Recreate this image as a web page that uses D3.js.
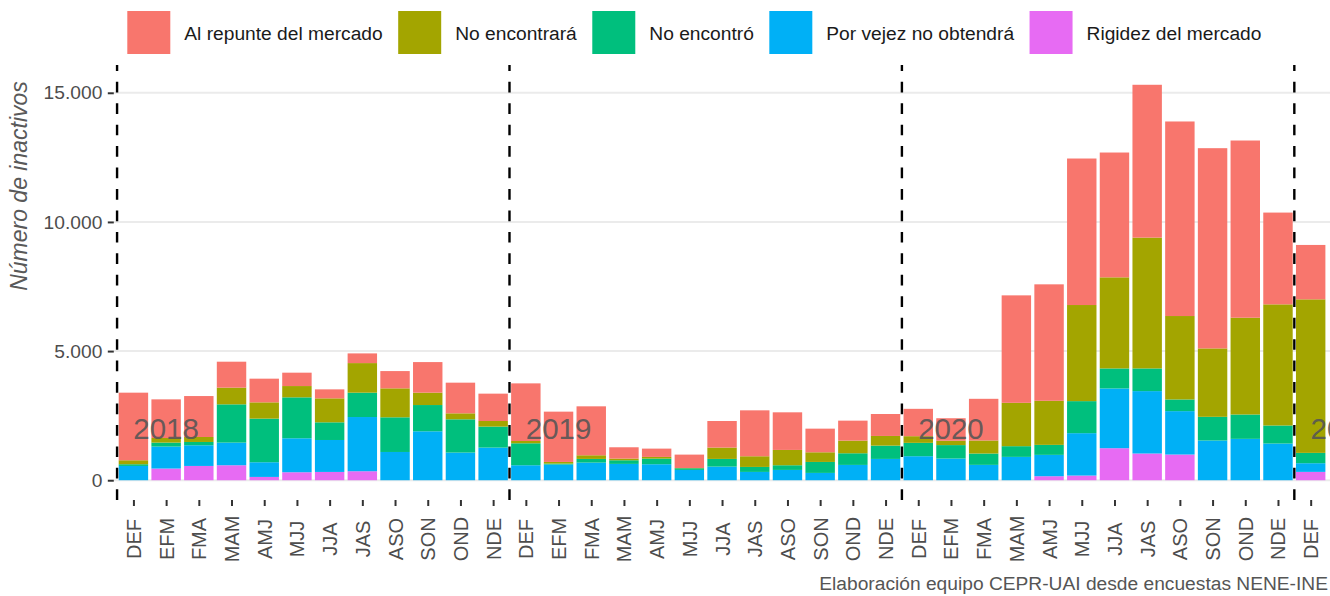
<!DOCTYPE html>
<head>
	<meta charset="utf-8">
	<title>Inactivos por razón</title>
	<script src="https://cdn.jsdelivr.net/npm/d3@7/dist/d3.min.js"></script>
	<style>
		body { margin: 0; background: #fff; }
		svg { display: block; font-family: "Liberation Sans", Arial, sans-serif; }
	</style>
</head>

<body>
	<div id="chart"></div>

  <script>
	// trimestres moviles, 2018 - 2021
	var periods = ["DEF","EFM","FMA","MAM","AMJ","MJJ","JJA","JAS","ASO","SON","OND","NDE",
		"DEF","EFM","FMA","MAM","AMJ","MJJ","JJA","JAS","ASO","SON","OND","NDE",
		"DEF","EFM","FMA","MAM","AMJ","MJJ","JJA","JAS","ASO","SON","OND","NDE",
		"DEF"];
	var years = ["2018", "2019", "2020", "2021"];
	var yearPos = [2, 14, 26, 38];
	var yearBreaks = [0.5, 12.5, 24.5, 36.5];

	// series, bottom of stack first
	var rigidez = [0,452,553,580,128,309,321,348,0,0,0,0,
		0,0,0,0,0,0,0,0,0,0,0,0,
		0,0,0,0,155,181,1240,1034,995,0,0,0,
		323];
	var vejez = [553,851,800,877,568,1315,1237,2099,1094,1894,1071,1264,
		580,606,683,632,619,399,528,322,399,283,593,825,
		930,840,595,904,827,1641,2313,2416,1680,1538,1602,1421,
		336];
	var noEncontro = [66,154,128,1481,1689,1585,684,943,1342,1017,1287,812,
		850,38,142,141,219,65,297,193,181,425,451,515,
		517,520,439,414,387,1240,775,878,452,917,943,698,
		400];
	var noEncontrara = [154,178,193,646,630,437,928,1145,1121,479,232,217,
		89,64,141,65,64,10,439,413,593,374,490,374,
		258,170,505,1679,1706,3721,3527,5065,3230,2648,3747,4690,
		5944];
	var repunte = [2617,1496,1585,1005,917,518,348,375,669,1184,1187,1059,
		2231,1947,1895,438,322,518,1029,1778,1456,915,773,850,
		1059,870,1613,4160,4509,5672,4832,5917,7532,7752,6860,3553,
		2106];

	var yTicks = [0, 5000, 10000, 15000];
	var legendNames = ["Al repunte del mercado", "No encontrará", "No encontró", "Por vejez no obtendrá", "Rigidez del mercado"];
	var stackKeys = ["rigidez", "vejez", "noEncontro", "noEncontrara", "repunte"];
	var colors = {
		repunte: "#F8766D", noEncontrara: "#A3A500", noEncontro: "#00BF7D",
		vejez: "#00B0F6", rigidez: "#E76BF3"
	};
	var legendKeys = ["repunte", "noEncontrara", "noEncontro", "vejez", "rigidez"];

	var rows = periods.map(function (p, i) {
		return {
			pos: i + 1, label: p,
			rigidez: rigidez[i], vejez: vejez[i], noEncontro: noEncontro[i],
			noEncontrara: noEncontrara[i], repunte: repunte[i]
		};
	});

	var width = 1330, height = 596;
	var panel = {left: 113.8, right: 1330.3, top: 65, bottom: 500};

	var svg = d3.select("#chart").append("svg")
		.attr("width", width)
		.attr("height", height);

	var stacked = d3.stack().keys(stackKeys)(rows);
	var maxTotal = d3.max(stacked[stacked.length - 1], function (d) { return d[1]; });

	// ggplot style expansion: 0.6 units on a discrete axis, 5% on the value axis
	var x = d3.scaleLinear().domain([0.4, periods.length + 0.6]).range([panel.left, panel.right]);
	var y = d3.scaleLinear().domain([-0.05 * maxTotal, maxTotal * 1.05]).range([panel.bottom, panel.top]);
	var unit = x(2) - x(1);

	var fmt = d3.formatLocale({decimal: ",", thousands: ".", grouping: [3], currency: ["$", ""]}).format(",.0f");

	svg.append("clipPath").attr("id", "panel-clip")
		.append("rect")
		.attr("x", panel.left).attr("y", panel.top)
		.attr("width", panel.right - panel.left).attr("height", panel.bottom - panel.top);

	// grid
	svg.append("g").selectAll("line").data(yTicks).enter().append("line")
		.attr("x1", panel.left).attr("x2", panel.right)
		.attr("y1", function (d) { return y(d); })
		.attr("y2", function (d) { return y(d); })
		.style("stroke", "#ebebeb")
		.style("stroke-width", 2);

	// bars
	svg.append("g").selectAll("g").data(stacked).enter().append("g")
		.style("fill", function (s) { return colors[s.key]; })
		.selectAll("rect").data(function (s) { return s; }).enter().append("rect")
			.attr("x", function (d) { return x(d.data.pos) - unit * 0.45; })
			.attr("width", unit * 0.9)
			.attr("y", function (d) { return y(d[1]); })
			.attr("height", function (d) { return y(d[0]) - y(d[1]); });

	// year separators
	svg.append("g").selectAll("line").data(yearBreaks).enter().append("line")
		.attr("x1", function (d) { return x(d); })
		.attr("x2", function (d) { return x(d); })
		.attr("y1", panel.bottom).attr("y2", panel.top)
		.style("stroke", "#000")
		.style("stroke-width", 2.4)
		.style("stroke-dasharray", "10.7,10.75");

	// year labels
	svg.append("g").attr("clip-path", "url(#panel-clip)")
		.selectAll("text").data(years).enter().append("text")
		.attr("x", function (d, i) { return x(yearPos[i]); })
		.attr("y", y(2000) + 10.5)
		.attr("text-anchor", "middle")
		.style("font-size", "29.5px")
		.style("fill", "#555")
		.style("fill-opacity", 0.9)
		.text(function (d) { return d; });

	// axes
	var yAxis = svg.append("g")
		.attr("transform", "translate(" + panel.left + ",0)")
		.call(d3.axisLeft(y).tickValues(yTicks).tickFormat(fmt).tickSize(6).tickPadding(5.5));
	yAxis.select(".domain").remove();
	yAxis.selectAll("line").style("stroke", "#333").style("stroke-width", 2);
	yAxis.selectAll("text").style("font-size", "19.2px").style("fill", "#4d4d4d")
		.style("font-family", "Liberation Sans, Arial, sans-serif");

	var xAxis = svg.append("g")
		.attr("transform", "translate(0," + panel.bottom + ")")
		.call(d3.axisBottom(x).tickValues(d3.range(1, periods.length + 1))
			.tickFormat(function (i) { return periods[i - 1]; }).tickSize(6));
	xAxis.select(".domain").remove();
	xAxis.selectAll("line").style("stroke", "#333").style("stroke-width", 2);
	xAxis.selectAll("text")
		.attr("y", 0).attr("dy", null)
		.attr("transform", "translate(0,39) rotate(-90)")
		.attr("text-anchor", "middle")
		.attr("dominant-baseline", "central")
		.style("font-size", "20px").style("fill", "#4d4d4d")
		.style("font-family", "Liberation Sans, Arial, sans-serif");

	// y title
	svg.append("text")
		.attr("transform", "translate(27,186) rotate(-90)")
		.attr("text-anchor", "middle")
		.style("font-size", "23px")
		.style("font-style", "italic")
		.style("fill", "#595959")
		.text("Número de inactivos");

	// caption
	svg.append("text")
		.attr("x", 1328).attr("y", 590)
		.attr("text-anchor", "end")
		.style("font-size", "19.2px")
		.style("fill", "#555")
		.text("Elaboración equipo CEPR-UAI desde encuestas NENE-INE");

	// legend, laid out left to right
	var lx = 127.3;
	legendKeys.forEach(function (k, i) {
		svg.append("rect")
			.attr("x", lx).attr("y", 11)
			.attr("width", 43).attr("height", 43)
			.style("fill", colors[k]);
		var t = svg.append("text")
			.attr("x", lx + 57).attr("y", 39.5)
			.style("font-size", "19.2px")
			.style("fill", "#1a1a1a")
			.text(legendNames[i]);
		lx = lx + 57 + t.node().getComputedTextLength() + 15.5;
	});
	</script>
</body>
</html>
